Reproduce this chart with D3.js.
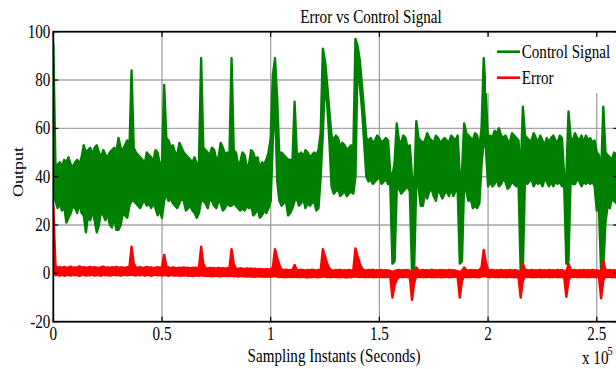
<!DOCTYPE html>
<html>
<head>
<meta charset="utf-8">
<script src="https://cdn.jsdelivr.net/npm/d3@7"></script>
<style>
  body { margin: 0; background: #fff; }
  svg { display: block; font-family: "Liberation Serif", "Times New Roman", serif; }
</style>
</head>
<body>
<div id="chart"></div>
<script>
/**
 * Chart data. x is in units of 10^5 samples; every bin of the dense
 * signals is kept as its upper and lower extent.
 */
const sampleStep = 0.01;
const xTicks = [0, 0.5, 1, 1.5, 2, 2.5];
const xTickLabels = ["0", "0.5", "1", "1.5", "2", "2.5"];
const yTicks = [-20, 0, 20, 40, 60, 80, 100];
const yTickLabels = ["-20", "0", "20", "40", "60", "80", "100"];
const seriesNames = ["Control Signal", "Error"];
const seriesColors = ["#008000", "#ff0000"];

const controlHigh = [
  95, 44, 45, 46, 44, 47, 46, 48, 45, 44,
  46, 47, 45, 48, 53, 50, 51, 52, 49, 52,
  53, 50, 48, 51, 49, 48, 50, 51, 52, 50,
  56, 52, 51, 53, 55, 50, 84, 52, 50, 49,
  48, 47, 45, 50, 49, 48, 46, 51, 50, 45,
  46, 78, 56, 55, 52, 53, 50, 49, 54, 52,
  50, 49, 48, 47, 46, 48, 45, 46, 89, 52,
  51, 50, 49, 52, 51, 47, 48, 54, 52, 49,
  50, 48, 89, 51, 50, 45, 46, 50, 49, 44,
  45, 51, 50, 47, 48, 43, 46, 45, 47, 50,
  56, 82, 89, 72, 48, 50, 49, 48, 47, 47,
  46, 71, 50, 49, 50, 48, 51, 50, 48, 49,
  50, 49, 51, 58, 93, 88, 78, 67, 57, 55,
  57, 56, 52, 54, 53, 51, 52, 53, 50, 97,
  94, 88, 78, 67, 56, 55, 56, 54, 55, 57,
  56, 54, 55, 56, 55, 42, 40, 46, 62, 55,
  54, 57, 56, 52, 53, 40, 35, 63, 56, 55,
  54, 55, 58, 56, 55, 54, 57, 56, 54, 55,
  56, 55, 54, 57, 56, 55, 57, 40, 42, 62,
  58, 57, 56, 55, 58, 57, 52, 60, 89, 73,
  55, 57, 56, 59, 58, 60, 57, 56, 57, 55,
  54, 58, 57, 56, 55, 40, 69, 57, 56, 55,
  55, 58, 56, 54, 57, 55, 53, 56, 54, 56,
  57, 55, 54, 57, 56, 40, 40, 67, 56, 55,
  58, 56, 55, 57, 54, 57, 55, 56, 54, 55,
  50, 49, 40, 69, 50, 49, 48, 47, 50, 49,
  50
];

const controlLow = [
  40, 30, 27, 29, 26, 28, 21, 23, 25, 28,
  27, 25, 29, 25, 24, 17, 24, 22, 26, 22,
  17, 20, 26, 24, 22, 25, 20, 19, 24, 18,
  18, 20, 25, 24, 23, 28, 30, 30, 29, 28,
  27, 29, 30, 28, 29, 27, 29, 27, 24, 26,
  23, 30, 33, 30, 31, 29, 28, 27, 29, 31,
  30, 26, 27, 28, 26, 25, 23, 25, 30, 30,
  29, 27, 31, 30, 28, 27, 30, 29, 26, 27,
  29, 28, 28, 29, 28, 27, 26, 27, 26, 28,
  27, 28, 24, 25, 27, 23, 24, 26, 25, 27,
  30, 55, 72, 38, 30, 28, 29, 30, 24, 25,
  27, 30, 31, 28, 29, 31, 27, 29, 28, 29,
  30, 26, 27, 40, 58, 80, 70, 55, 36, 33,
  34, 35, 32, 33, 34, 32, 33, 34, 33, 40,
  89, 78, 68, 54, 40, 38, 39, 37, 38, 39,
  40, 37, 38, 39, 37, 37, 4, 5, 35, 35,
  33, 34, 35, 36, 34, 1, 2, 38, 36, 28,
  28, 33, 31, 34, 35, 32, 30, 35, 33, 31,
  33, 34, 32, 35, 32, 34, 35, 4, 5, 38,
  34, 30, 31, 27, 28, 27, 29, 45, 55, 52,
  36, 38, 36, 37, 39, 36, 37, 39, 38, 35,
  36, 38, 37, 36, 38, 1, 2, 40, 37, 38,
  39, 36, 38, 37, 38, 36, 39, 38, 36, 38,
  36, 38, 37, 38, 36, 37, 4, 5, 40, 37,
  37, 39, 38, 36, 38, 37, 38, 37, 38, 36,
  26, 27, 1, 2, 21, 28, 27, 31, 30, 29,
  30
];

const errorHigh = [
  28, 3, 2.4, 2.6, 2.2, 2.7, 2.3, 2.5, 2.8, 2.2,
  2.5, 2.3, 2.9, 2.4, 2.6, 2.2, 2.5, 2.7, 2.3, 2.6,
  2.4, 2.2, 2.6, 2.8, 2.3, 2.5, 2.2, 2.6, 2.4, 2.7,
  2.3, 2.5, 2.4, 2.2, 2.6, 2.3, 11, 4, 2.5, 2.3,
  2.6, 2.2, 2.4, 2.7, 2.3, 2.5, 2.2, 2.4, 2.6, 2.3,
  2.4, 7.6, 3, 2.4, 2.2, 2.5, 2.3, 2.1, 2.4, 2.2,
  2.5, 2.2, 2.3, 2.1, 2.4, 2.2, 2.3, 2.1, 11, 4,
  2.2, 2, 2.3, 2.1, 2.2, 1.9, 2.3, 2, 2.1, 1.9,
  2.2, 2, 10, 4, 2, 1.8, 2.1, 1.9, 1.8, 2,
  1.8, 2, 1.7, 1.9, 1.6, 1.8, 1.7, 1.5, 1.8, 1.6,
  1.6, 2.5, 10, 6.5, 3.5, 1.6, 1.3, 1.5, 1.2, 1.4,
  1.3, 3.5, 1.4, 1.2, 1.5, 1.3, 1.1, 1.4, 1.2, 1.5,
  1.3, 1.1, 1.4, 1.2, 10, 7, 4, 2, 1.3, 1.1,
  1.4, 1.2, 1.5, 1.1, 1.3, 1.2, 1.4, 1.1, 1.3, 10.3,
  7, 4, 2, 1.3, 1.1, 1.4, 1.2, 1.5, 1.1, 1.3,
  1.2, 1.4, 1.1, 1.3, 1.2, 1, 0.5, 1, 1.2, 1.4,
  1.1, 1.3, 1.2, 1.4, 1, 0.5, 1, 2.4, 1.3, 1.1,
  1.4, 1.2, 1.3, 1.1, 1.5, 1.2, 1.3, 1.1, 1.4, 1.2,
  1.3, 1.1, 1.4, 1.2, 1.3, 1.1, 0.8, 0.5, 1, 2.4,
  1.3, 1.1, 1.4, 1.2, 1.3, 1.1, 1.4, 2.5, 9.7, 4.5,
  1.5, 1.2, 1.4, 1.1, 1.3, 1.2, 1.4, 1.1, 1.3, 1.2,
  1.4, 1.1, 1.3, 1.2, 1, 0.5, 4, 1.5, 1.3, 1.1,
  1.4, 1.2, 1.3, 1.1, 1.4, 1.2, 1.3, 1.1, 1.4, 1.2,
  1.3, 1.1, 1.4, 1.2, 1.3, 1, 0.5, 4, 1.5, 1.2,
  1.4, 1.1, 1.3, 1.2, 1.4, 1.1, 1.3, 1.2, 1.4, 1.1,
  1.3, 1, 0.5, 5, 1.5, 1.2, 1.4, 1.1, 1.3, 1.2,
  1.4
];

const errorLow = [
  3, -0.8, -0.6, -0.9, -0.5, -1, -0.7, -0.6, -0.9, -0.5,
  -0.8, -0.6, -1, -0.7, -0.5, -0.9, -0.6, -0.8, -0.5, -0.9,
  -0.7, -0.6, -1, -0.5, -0.8, -0.6, -0.9, -0.7, -0.5, -0.8,
  -0.6, -0.9, -0.7, -0.5, -0.8, -0.6, -0.5, -0.7, -0.9, -0.6,
  -0.8, -0.5, -0.9, -0.7, -0.6, -1, -0.7, -0.5, -0.8, -0.6,
  -0.9, -0.6, -0.7, -1, -0.6, -0.8, -0.9, -0.7, -1, -0.8,
  -0.9, -0.7, -1, -0.8, -1.1, -0.9, -0.8, -1, -0.7, -0.9,
  -1, -1.1, -0.9, -1.2, -1, -0.9, -1.1, -1.2, -0.9, -1,
  -1.1, -1, -0.9, -1.2, -1, -1.3, -1.1, -1, -1.2, -1.3,
  -1.1, -1.3, -1.2, -1.4, -1.1, -1.3, -1.2, -1.4, -1.3, -1.2,
  -1.4, -1.2, -1, -1.3, -1.5, -1.3, -1.6, -1.4, -1.5, -1.3,
  -1.6, -1.3, -1.5, -1.4, -1.6, -1.3, -1.5, -1.7, -1.4, -1.6,
  -1.3, -1.5, -1.6, -1.4, -1.2, -1.3, -1.5, -1.4, -1.6, -1.3,
  -1.5, -1.4, -1.6, -1.3, -1.5, -1.7, -1.4, -1.6, -1.3, -1.2,
  -1.4, -1.5, -1.3, -1.6, -1.4, -1.5, -1.3, -1.6, -1.4, -1.5,
  -1.3, -1.6, -1.4, -1.5, -1.3, -1.5, -10, -5, -2.5, -1.6,
  -1.4, -1.5, -1.3, -1.6, -1.4, -11, -4, -1.2, -1.5, -1.3,
  -1.6, -1.4, -1.5, -1.3, -1.6, -1.4, -1.5, -1.3, -1.6, -1.4,
  -1.5, -1.3, -1.6, -1.4, -1.5, -1.3, -1.6, -10, -3, -1.2,
  -1.5, -1.4, -1.6, -1.3, -1.5, -1.4, -1.6, -1.3, -1, -1.2,
  -1.4, -1.6, -1.3, -1.5, -1.4, -1.6, -1.3, -1.5, -1.4, -1.6,
  -1.3, -1.5, -1.4, -1.6, -1.5, -10, -3, -1.2, -1.5, -1.3,
  -1.6, -1.4, -1.5, -1.3, -1.6, -1.4, -1.5, -1.3, -1.6, -1.4,
  -1.5, -1.3, -1.6, -1.4, -1.5, -1.6, -9.7, -3, -1.2, -1.5,
  -1.3, -1.6, -1.4, -1.5, -1.3, -1.6, -1.4, -1.5, -1.3, -1.6,
  -1.4, -1.5, -10.3, -3, -1.2, -1.5, -1.3, -1.6, -1.4, -1.5,
  -1.3
];

/**
 * Layout.
 */
const width = 616, height = 369;
const plot = { left: 53.3, right: 618.5, top: 31.7, bottom: 321.7 };
const squeeze = 0.84; // the source figure is horizontally compressed
const fontSize = 18;
const tickLength = 5;

const x = d3.scaleLinear().domain([0, 2.6]).range([plot.left, plot.right]);
const y = d3.scaleLinear().domain([-20, 100]).range([plot.bottom, plot.top]);

const svg = d3.select("#chart")
  .append("svg")
    .attr("width", width)
    .attr("height", height);

svg.append("rect")
  .attr("width", width)
  .attr("height", height)
  .attr("fill", "#fff");

const addText = (g, px, py, str, anchor = "middle", size = fontSize, rotate = false) =>
  g.append("text")
    .attr("transform", `translate(${px},${py}) scale(${squeeze},1)${rotate ? " rotate(-90)" : ""}`)
    .attr("text-anchor", anchor)
    .style("font-size", `${size}px`)
    .attr("fill", "#000")
    .text(str);

/**
 * Grid.
 */
const grid = svg.append("g").attr("class", "grid");
grid.selectAll(".hgrid")
  .data(yTicks.slice(1, -1))
  .enter().append("line")
    .attr("x1", plot.left).attr("x2", plot.right)
    .attr("y1", d => y(d)).attr("y2", d => y(d))
    .attr("stroke", "#a6a6a6")
    .attr("stroke-width", 1.4);
grid.selectAll(".vgrid")
  .data(xTicks.slice(1))
  .enter().append("line")
    .attr("x1", d => x(d)).attr("x2", d => x(d))
    .attr("y1", plot.top).attr("y2", plot.bottom)
    .attr("stroke", "#999")
    .attr("stroke-width", 1.2);

/**
 * Series: each dense signal is drawn as the band between its extents.
 */
svg.append("clipPath").attr("id", "plotclip")
  .append("rect")
    .attr("x", plot.left).attr("y", plot.top)
    .attr("width", plot.right - plot.left).attr("height", plot.bottom - plot.top);

const band = d3.area()
  .x((d, i) => x(i * sampleStep))
  .y0(d => y(d[1]))
  .y1(d => y(d[0]));

const series = [
  d3.zip(controlHigh, controlLow),
  d3.zip(errorHigh, errorLow)
];

svg.append("g")
    .attr("clip-path", "url(#plotclip)")
  .selectAll("path")
  .data(series)
  .enter().append("path")
    .attr("d", d => band(d))
    .attr("fill", (d, i) => seriesColors[i])
    .attr("stroke", (d, i) => seriesColors[i])
    .attr("stroke-width", 2.4)
    .attr("stroke-linejoin", "round");

/**
 * Axes box and ticks.
 */
const axes = svg.append("g").attr("class", "axes");
axes.append("rect")
  .attr("x", plot.left).attr("y", plot.top)
  .attr("width", plot.right - plot.left).attr("height", plot.bottom - plot.top)
  .attr("fill", "none")
  .attr("stroke", "#000")
  .attr("stroke-width", 1.8);

xTicks.forEach(t => {
  axes.append("line")
    .attr("x1", x(t)).attr("x2", x(t))
    .attr("y1", plot.bottom).attr("y2", plot.bottom - tickLength)
    .attr("stroke", "#000").attr("stroke-width", 1.2);
  axes.append("line")
    .attr("x1", x(t)).attr("x2", x(t))
    .attr("y1", plot.top).attr("y2", plot.top + tickLength)
    .attr("stroke", "#000").attr("stroke-width", 1.2);
});
yTicks.forEach(t => {
  axes.append("line")
    .attr("x1", plot.left).attr("x2", plot.left + tickLength)
    .attr("y1", y(t)).attr("y2", y(t))
    .attr("stroke", "#000").attr("stroke-width", 1.2);
  axes.append("line")
    .attr("x1", plot.right).attr("x2", plot.right - tickLength)
    .attr("y1", y(t)).attr("y2", y(t))
    .attr("stroke", "#000").attr("stroke-width", 1.2);
});

const labels = svg.append("g").attr("class", "labels");
xTicks.forEach((t, i) => addText(labels, x(t), 340, xTickLabels[i]));
yTicks.forEach((t, i) => addText(labels, plot.left - 3, y(t) + 6, yTickLabels[i], "end"));

addText(labels, 371, 23.3, "Error vs Control Signal");
addText(labels, 334, 361.5, "Sampling Instants (Seconds)");
addText(labels, 23, 172, "Output", "middle", fontSize, true);
addText(labels, 582, 364, "x 10", "start");
addText(labels, 607.5, 355, "5", "start", 12);

/**
 * Legend.
 */
const legend = svg.append("g").attr("class", "legend");
legend.append("rect")
  .attr("x", 486).attr("y", 37)
  .attr("width", 140).attr("height", 56)
  .attr("fill", "#fff");
seriesNames.forEach((name, i) => {
  const ly = 51.7 + i * 26;
  legend.append("line")
    .attr("x1", 497).attr("x2", 520)
    .attr("y1", ly).attr("y2", ly)
    .attr("stroke", seriesColors[i])
    .attr("stroke-width", 2.6);
  addText(legend, 521.7, ly + 6.5, name, "start");
});
</script>
</body>
</html>
